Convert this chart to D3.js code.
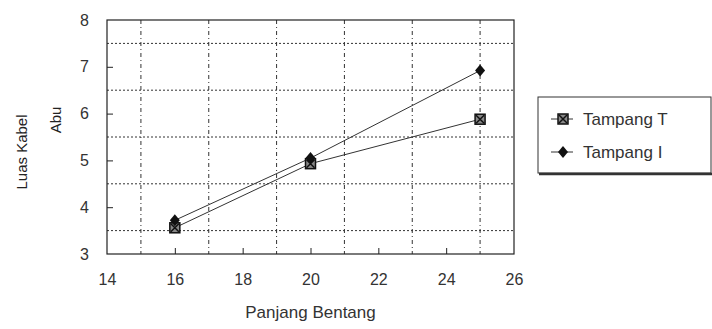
<!DOCTYPE html>
<html>
<head>
<meta charset="utf-8">
<script src="https://cdn.jsdelivr.net/npm/d3@7"></script>
<style>
  body { margin: 0; background: #fff; }
  text { font-family: "Liberation Sans", Arial, sans-serif; fill: #222; }
</style>
</head>
<body>
<svg></svg>
<script>
const width = 712;
const height = 329;

// data
const bentang = [16, 20, 25];
const tampangT = [3.56, 4.93, 5.88];
const tampangI = [3.72, 5.05, 6.92];
const xTicks = [14, 16, 18, 20, 22, 24, 26];
const yTicks = [3, 4, 5, 6, 7, 8];
const xGrid = [15, 17, 19, 21, 23, 25];
const yGrid = [3.5, 4.5, 5.5, 6.5, 7.5];
const seriesNames = ["Tampang T", "Tampang I"];

const margin = { left: 107, right: 198, top: 20, bottom: 75 };

const svg = d3.select("svg")
    .attr("width", width)
    .attr("height", height);

const x = d3.scaleLinear().domain([14, 26]).range([margin.left, width - margin.right]);
const y = d3.scaleLinear().domain([3, 8]).range([height - margin.bottom, margin.top]);

// grid
svg.append("g").selectAll("line")
    .data(xGrid)
    .enter().append("line")
    .attr("x1", d => x(d)).attr("x2", d => x(d))
    .attr("y1", y(8)).attr("y2", y(3))
    .attr("stroke", "#333").attr("stroke-width", 1)
    .attr("stroke-dasharray", "4,3,1,3");

svg.append("g").selectAll("line")
    .data(yGrid)
    .enter().append("line")
    .attr("x1", x(14)).attr("x2", x(26))
    .attr("y1", d => y(d)).attr("y2", d => y(d))
    .attr("stroke", "#333").attr("stroke-width", 1)
    .attr("stroke-dasharray", "2,2");

// plot frame
svg.append("rect")
    .attr("x", x(14)).attr("y", y(8))
    .attr("width", x(26) - x(14)).attr("height", y(3) - y(8))
    .attr("fill", "none").attr("stroke", "#222").attr("stroke-width", 1.2);

// axes
const xAxis = svg.append("g")
    .attr("transform", `translate(0,${y(3)})`)
    .call(d3.axisBottom(x).tickValues(xTicks).tickFormat(d3.format("d")).tickSize(-6).tickPadding(20));
const yAxis = svg.append("g")
    .attr("transform", `translate(${x(14)},0)`)
    .call(d3.axisLeft(y).tickValues(yTicks).tickFormat(d3.format("d")).tickSize(-6).tickPadding(18));

[xAxis, yAxis].forEach(a => {
    a.select(".domain").remove();
    a.selectAll(".tick line").attr("stroke", "#222");
    a.selectAll(".tick text")
        .style("font-size", "16px")
        .style("fill", "#333");
});
yAxis.selectAll(".tick").filter(d => d === 3 || d === 8).select("line").remove();
xAxis.selectAll(".tick").filter(d => d === 14 || d === 26).select("line").remove();

// axis titles
svg.append("text")
    .attr("x", x(20)).attr("y", 318)
    .attr("text-anchor", "middle")
    .style("font-size", "17px")
    .style("fill", "#333")
    .text("Panjang Bentang");

svg.append("text")
    .attr("transform", `translate(27,152) rotate(-90)`)
    .attr("text-anchor", "middle")
    .style("font-size", "15px")
    .style("fill", "#222")
    .text("Luas Kabel");
svg.append("text")
    .attr("transform", `translate(61,120) rotate(-90)`)
    .attr("text-anchor", "middle")
    .style("font-size", "15px")
    .style("fill", "#222")
    .text("Abu");

// lines
const line = d3.line().x((d, i) => x(bentang[i])).y(d => y(d));
[tampangT, tampangI].forEach(vals => {
    svg.append("path")
        .datum(vals)
        .attr("d", line)
        .attr("fill", "none")
        .attr("stroke", "#333")
        .attr("stroke-width", 1);
});

function squareMark(g) {
    g.append("rect").attr("x", -5).attr("y", -5).attr("width", 10).attr("height", 10)
        .attr("fill", "#888").attr("stroke", "#111").attr("stroke-width", 1.5);
    g.append("path").attr("d", "M-4,-4L4,4M-4,4L4,-4").attr("stroke", "#111").attr("stroke-width", 1.5);
}
function diamondMark(g) {
    g.append("path").attr("d", "M0,-6L5,0L0,6L-5,0Z").attr("fill", "#111");
}

svg.append("g").selectAll("g")
    .data(tampangT)
    .enter().append("g")
    .attr("transform", (d, i) => `translate(${x(bentang[i])},${y(d)})`)
    .each(function () { squareMark(d3.select(this)); });

svg.append("g").selectAll("g")
    .data(tampangI)
    .enter().append("g")
    .attr("transform", (d, i) => `translate(${x(bentang[i])},${y(d)})`)
    .each(function () { diamondMark(d3.select(this)); });

// legend
const legend = svg.append("g").attr("transform", "translate(538,97)");
legend.append("rect")
    .attr("x", 0).attr("y", 0).attr("width", 173).attr("height", 76)
    .attr("fill", "#fff").attr("stroke", "#333").attr("stroke-width", 1);
legend.append("line")
    .attr("x1", 1).attr("x2", 174).attr("y1", 77).attr("y2", 77)
    .attr("stroke", "#333").attr("stroke-width", 2.5);

const legendItem = legend.selectAll(".legend-item")
    .data(seriesNames)
    .enter().append("g")
    .attr("class", "legend-item")
    .attr("transform", (d, i) => `translate(0,${22 + i * 33})`);

legendItem.append("line")
    .attr("x1", 13).attr("x2", 35).attr("y1", 0).attr("y2", 0)
    .attr("stroke", "#333").attr("stroke-width", 1);
legendItem.append("g")
    .attr("transform", "translate(25,0)")
    .each(function (d, i) {
        if (i === 0) squareMark(d3.select(this));
        else diamondMark(d3.select(this));
    });
legendItem.append("text")
    .attr("x", 45).attr("y", 6)
    .style("font-size", "17px")
    .style("fill", "#333")
    .text(d => d);
</script>
</body>
</html>
